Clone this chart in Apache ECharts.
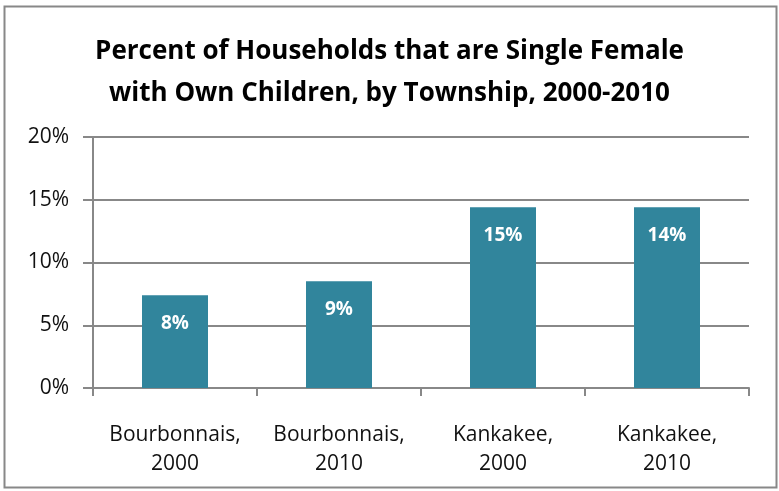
<!DOCTYPE html>
<html>
<head>
<meta charset="utf-8">
<script src="https://cdn.jsdelivr.net/npm/echarts@6/dist/echarts.min.js"></script>
<style>
  html, body { margin: 0; padding: 0; background: #fff; }
  #container { width: 779px; height: 491px; }
</style>
</head>
<body>
<div id="container"></div>
<script>
// data
var categories = ['Bourbonnais,\n2000', 'Bourbonnais,\n2010', 'Kankakee,\n2000', 'Kankakee,\n2010'];
var values = [7.4, 8.5, 14.4, 14.4];
var valueLabels = ['8%', '9%', '15%', '14%'];
var yTicks = [0, 5, 10, 15, 20];

var dom = document.getElementById("container");
var myChart = echarts.init(dom);
var font = 'Open Sans';

var option = {
    backgroundColor: '#fff',
    animation: false,
    title: {
        text: 'Percent of Households that are Single Female\nwith Own Children, by Township, 2000-2010',
        left: 'center',
        top: 26,
        textStyle: {
            color: '#000',
            fontFamily: font,
            fontWeight: 'bold',
            fontSize: 26,
            lineHeight: 42
        }
    },
    graphic: [{
        type: 'rect',
        shape: { x: 4.5, y: 6.5, width: 772, height: 481 },
        style: { fill: null, stroke: '#888', lineWidth: 2 },
        silent: true
    }],
    grid: { left: 93, right: 30, top: 137, bottom: 103 },
    xAxis: {
        type: 'category',
        data: categories,
        axisLine: { lineStyle: { color: '#888', width: 2 } },
        axisTick: { show: true, length: 8, lineStyle: { color: '#888', width: 2 } },
        axisLabel: {
            interval: 0,
            hideOverlap: false,
            color: '#111',
            fontFamily: font,
            fontSize: 21,
            lineHeight: 29,
            margin: 33
        }
    },
    yAxis: {
        type: 'value',
        min: yTicks[0],
        max: yTicks[yTicks.length - 1],
        interval: 5,
        axisLine: { show: true, lineStyle: { color: '#888', width: 2 } },
        axisTick: { show: true, length: 10, lineStyle: { color: '#888', width: 2 } },
        splitLine: { lineStyle: { color: '#888', width: 2 } },
        axisLabel: {
            color: '#111',
            fontFamily: font,
            fontSize: 21,
            margin: 24,
            formatter: '{value}%'
        }
    },
    series: [{
        type: 'bar',
        data: values,
        barWidth: 66,
        itemStyle: { color: '#31859C' },
        label: {
            show: true,
            position: 'insideTop',
            distance: 19,
            color: '#fff',
            fontFamily: font,
            fontWeight: 'bold',
            fontSize: 19,
            formatter: function (p) { return valueLabels[p.dataIndex]; }
        }
    }]
};
myChart.setOption(option);
</script>
</body>
</html>
